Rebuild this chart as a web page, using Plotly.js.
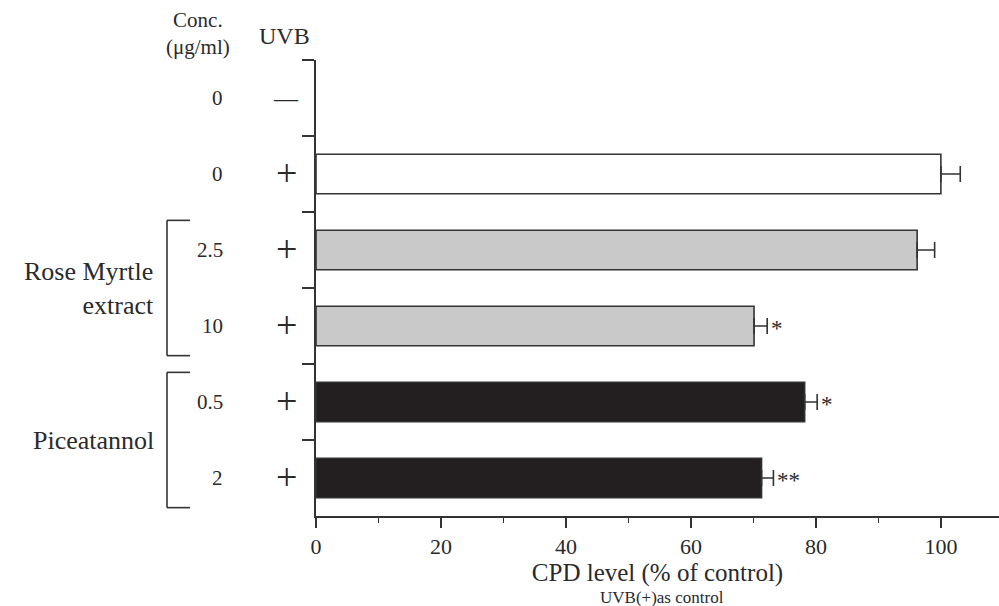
<!DOCTYPE html>
<html>
<head>
<meta charset="utf-8">
<script src="https://cdn.plot.ly/plotly-3.0.1.min.js"></script>
<style>html,body{margin:0;padding:0;background:#fff;}#chart{width:999px;height:606px;}</style>
</head>
<body>
<div id="chart"></div>
<script>
// ---- data ----
var rowKeys = ["0 / UVB-", "0 / UVB+", "RM 2.5 / UVB+", "RM 10 / UVB+", "PIC 0.5 / UVB+", "PIC 2 / UVB+"];
var concLabels = ["0", "0", "2.5", "10", "0.5", "2"];
var uvbLabels = ["—", "+", "+", "+", "+", "+"];
var cpdValues = [null, 100, 96.2, 70.1, 78.2, 71.3];
var cpdErrors = [null, 3.1, 2.8, 2.1, 2.0, 1.9];
var barColors = ["#ffffff", "#ffffff", "#c9c9c9", "#c9c9c9", "#231f20", "#231f20"];
var sigLabels = ["", "", "", "*", "*", "**"];
var groupNames = ["Rose Myrtle<br>extract", "Piceatannol"];
var groupRows = [[2, 3], [4, 5]];
var xTickVals = [0, 20, 40, 60, 80, 100];

var serif = "Liberation Serif, Times New Roman, serif";
var ink = "#2a2a2a";

var trace = {
  type: "bar",
  orientation: "h",
  y: rowKeys,
  x: cpdValues,
  width: 0.52,
  marker: {color: barColors, line: {color: "#333", width: 1.6}},
  error_x: {type: "data", symmetric: false, array: cpdErrors, arrayminus: cpdValues.map(function(){return 0;}),
            color: "#333", thickness: 1.6, width: 8},
  hoverinfo: "none"
};

var annotations = [];
function px2paper(px) { return (px - 316) / 683; }
function py2paper(py) { return (515.7 - py) / 455.7; }

rowKeys.forEach(function(k, i) {
  annotations.push({xref: "paper", yref: "y", x: px2paper(225), y: k, xanchor: "right", yanchor: "middle",
    text: concLabels[i], showarrow: false, font: {family: serif, size: 21, color: ink}});
  annotations.push({xref: "paper", yref: "y", x: px2paper(286), y: k, xanchor: "center", yanchor: "middle",
    yshift: uvbLabels[i] === "+" ? 1 : 0,
    text: uvbLabels[i], showarrow: false, font: {family: serif, size: uvbLabels[i] === "+" ? 38 : 24, color: ink}});
  if (sigLabels[i]) {
    annotations.push({xref: "x", yref: "y", x: cpdValues[i] + cpdErrors[i], y: k, xanchor: "left", yanchor: "middle",
      xshift: 2, yshift: -2, text: sigLabels[i], showarrow: false, font: {family: serif, size: 23, color: ink}});
  }
});

// headers
annotations.push({xref: "paper", yref: "paper", x: px2paper(198), y: py2paper(34), xanchor: "center", yanchor: "middle",
  text: "Conc.<br>(μg/ml)", showarrow: false, borderpad: 0, font: {family: serif, size: 21, color: ink}});
annotations.push({xref: "paper", yref: "paper", x: px2paper(284), y: py2paper(36), xanchor: "center", yanchor: "middle",
  text: "UVB", showarrow: false, font: {family: serif, size: 24, color: ink}});
annotations.push({xref: "paper", yref: "paper", x: px2paper(662), y: py2paper(597), xanchor: "center", yanchor: "middle",
  borderpad: 0, text: "UVB(+)as control", showarrow: false, font: {family: serif, size: 17, color: ink}});

var shapes = [];
groupRows.forEach(function(g, gi) {
  var y0 = g[0] - 0.39, y1 = g[g.length - 1] + 0.39;
  var xa = px2paper(167), xb = px2paper(190);
  var ln = {color: "#333", width: 1.6};
  shapes.push({type: "line", xref: "paper", yref: "y", x0: xa, x1: xa, y0: y0, y1: y1, line: ln});
  shapes.push({type: "line", xref: "paper", yref: "y", x0: xa, x1: xb, y0: y0, y1: y0, line: ln});
  shapes.push({type: "line", xref: "paper", yref: "y", x0: xa, x1: xb, y0: y1, y1: y1, line: ln});
  annotations.push({xref: "paper", yref: "y", x: px2paper(156), y: (g[0] + g[g.length - 1]) / 2,
    xanchor: "right", yanchor: "middle", align: "right", text: groupNames[gi], showarrow: false,
    font: {family: serif, size: 26, color: ink}});
});

var layout = {
  width: 999, height: 606,
  margin: {l: 316, r: 0, t: 60, b: 90.3},
  paper_bgcolor: "#fff", plot_bgcolor: "#fff",
  showlegend: false,
  font: {family: serif, color: ink},
  xaxis: {
    range: [0, 109.3], showgrid: false, zeroline: false,
    showline: true, linecolor: "#333", linewidth: 1.6,
    ticks: "outside", ticklen: 10, tickwidth: 1.6, tickcolor: "#333",
    tickvals: xTickVals, ticktext: xTickVals.map(String),
    tickfont: {family: serif, size: 22, color: ink},
    minor: {dtick: 10, tick0: 0, ticks: "outside", ticklen: 5, tickwidth: 1.6, tickcolor: "#333"},
    title: {text: "CPD level (% of control)", font: {family: serif, size: 25, color: ink}, standoff: 2}
  },
  yaxis: {
    type: "category", categoryorder: "array", categoryarray: rowKeys,
    range: [5.5, -0.5], showgrid: false, zeroline: false,
    showline: true, linecolor: "#333", linewidth: 1.6,
    ticks: "outside", tickson: "boundaries", ticklen: 12, tickwidth: 1.6, tickcolor: "#333",
    showticklabels: false
  },
  annotations: annotations,
  shapes: shapes
};

Plotly.newPlot("chart", [trace], layout, {staticPlot: true, displayModeBar: false});
</script>
</body>
</html>
